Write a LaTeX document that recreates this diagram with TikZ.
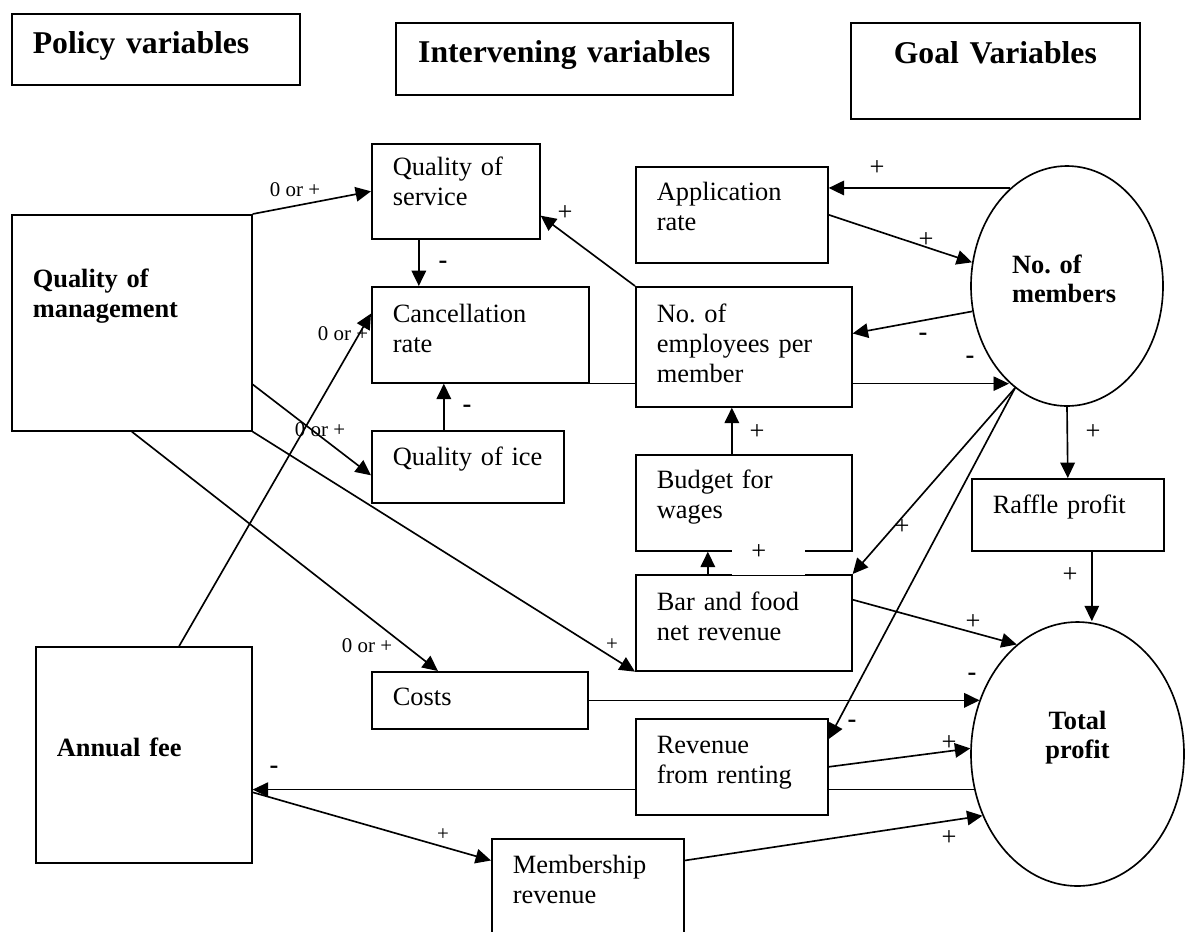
\documentclass[tikz,border=0pt]{standalone}
\usepackage{fontspec}
\setmainfont{Liberation Serif}
\usetikzlibrary{arrows.meta,shapes.geometric,backgrounds}
\frenchspacing
\newcommand\pxu{0.4545pt}
\tikzset{
  varbox/.style n args={3}{draw, fill=white, anchor=north west, align=left,
    inner xsep=21*\pxu, inner ysep=0pt, text width={(#1-42)*\pxu},
    text height={#3*\pxu}, text depth={(#2-#3)*\pxu}},
  oval/.style={draw, fill=white, ellipse, inner sep=0pt},
  headfont/.style={font={\fontsize{14.4pt}{17pt}\selectfont\bfseries}},
  boldfont/.style={font={\fontsize{12pt}{13.6pt}\selectfont\bfseries}},
  arr/.style={-{Triangle[length=7pt,width=6.6pt]}},
  lab/.style={inner sep=0pt},
  labsm/.style={inner sep=0pt, font={\fontsize{9.5pt}{11pt}\selectfont}},
  labneg/.style={inner sep=0pt, font={\fontsize{12pt}{13.6pt}\selectfont\bfseries}}
}

\begin{document}
\begin{tikzpicture}[x=\pxu, y=-\pxu, line width=0.75pt,
  font={\fontsize{12pt}{13.6pt}\selectfont}]
\useasboundingbox (0,0) rectangle (1186,931);
\node[varbox={288}{71}{40}, headfont] (policy) at (11,13) {Policy variables};
\node[varbox={337}{72}{40}, headfont, align=center] (interv) at (395,22) {Intervening variables};
\node[varbox={289}{96}{41}, headfont, align=center] (goal) at (850,22) {Goal Variables};
\node[varbox={240}{216}{73}, boldfont] (mgmt) at (11,214) {Quality of\\management};
\node[varbox={216}{216}{110}, boldfont] (annual) at (35,646) {Annual fee};
\node[varbox={168}{95}{32}] (qos) at (371,143) {Quality of\\service};
\node[varbox={217}{96}{36}] (canc) at (371,286) {Cancellation\\rate};
\node[varbox={192}{72}{35}] (qoi) at (371,430) {Quality of ice};
\node[varbox={216}{57}{34}] (costs) at (371,671) {Costs};
\node[varbox={192}{110}{35}] (memb) at (491,838) {Membership\\revenue};
\node[varbox={192}{96}{34}] (app) at (635,166) {Application\\rate};
\node[varbox={216}{120}{36}] (noe) at (635,286) {No. of\\employees per\\member};
\node[varbox={216}{96}{34}] (budget) at (635,454) {Budget for\\wages};
\node[varbox={216}{96}{36}] (bar) at (635,574) {Bar and food\\net revenue};
\node[varbox={192}{96}{35}] (rev) at (635,718) {Revenue\\from renting};
\node[varbox={192}{72}{35}] (raffle) at (971,478) {Raffle profit};
\node[oval, boldfont, minimum width=192*\pxu, minimum height=240*\pxu, text width=110*\pxu,
  align=left, text height=20*\pxu, text depth=46*\pxu] (members) at (1067,286) {No. of\\members};
\node[oval, boldfont, minimum width=213*\pxu, minimum height=264*\pxu, text width=76*\pxu,
  align=center, text height=20*\pxu, text depth=70*\pxu] (total) at (1077.5,754) {Total\\profit};

\draw[arr] (mgmt.north east) -- (qos.west);
\draw[arr] (noe.north west) -- (qos.-16);
\draw[arr] ([shift={(-37,0)}]qos.south) -- ([shift={(-37,0)}]qos.south |- canc.north);
\draw[arr] ([shift={(-24,0)}]qoi.north) -- ([shift={(-24,0)}]qoi.north |- canc.south);
\draw[arr] (mgmt.-27) -- (qoi.185);
\draw[arr] (annual.72) -- (canc.169);
\draw[arr] (mgmt.south) -- (costs.145);
\draw[arr] (mgmt.south east) -- (bar.south west);
\draw[arr] ([shift={(-36,0)}]bar.north) -- ([shift={(-36,0)}]bar.north |- budget.south);
\draw[arr] ([shift={(-12,0)}]budget.north) -- ([shift={(-12,0)}]budget.north |- noe.south);
\draw[arr] (members.120) -- (members.120 -| app.east);
\draw[arr] (app.east) -- (members.166);
\draw[arr] (members.195) -- (noe.7);
\draw[arr] (members.243) -- (bar.north east);
\draw[arr] (members.243) -- (rev.16);
\draw[arr] (members.south) -- (raffle.north);
\draw[arr] ([shift={(24,0)}]raffle.south) -- ([shift={(24,0)}]raffle.south |- total.north);
\draw[arr] (bar.12.5) -- (total.119);
\draw[arr] (costs.east) -- (costs.east -| total.151);
\draw[arr] (rev.east) -- (total.177);
\draw[arr] (annual.-19) -- (memb.161);
\draw[arr] (memb.19) -- (total.213);
\begin{scope}[on background layer]
\draw[arr] (canc.south east) -- (canc.south east -| members.239);
\draw[arr] (total.199) -- (total.199 -| annual.east);
\end{scope}

\node[labsm] (o1) at (295,190) {0 or +};
\node[labsm] (o2) at (343,334) {0 or +};
\node[labsm] (o3) at (320,430) {0 or +};
\node[labsm] (o4) at (367,646) {0 or +};
\node[labsm] (p1) at (612,645) {+};
\node[labsm] (p2) at (443,835) {+};
\node[lab] (p3) at (565,213) {+};
\node[lab] (p4) at (757,432) {+};
\node[lab] (p5) at (877,168) {+};
\node[lab] (p6) at (926,240) {+};
\node[lab] (p7) at (902,527) {+};
\node[lab] (p8) at (1093,432) {+};
\node[lab] (p9) at (1070,575) {+};
\node[lab] (p10) at (973,622) {+};
\node[lab] (p11) at (949,743) {+};
\node[lab] (p12) at (949,838) {+};
\node[lab, fill=white, anchor=north west, inner xsep=19.5*\pxu, text width=34*\pxu,
  align=left, text height=11.6*\pxu, text depth=15.4*\pxu] (pbud) at (731,547) {+};
\node[labneg] (m1) at (443,265) {-};
\node[labneg] (m2) at (467,409) {-};
\node[labneg] (m3) at (923,337) {-};
\node[labneg] (m4) at (970,360) {-};
\node[labneg] (m5) at (852,724) {-};
\node[labneg] (m6) at (972,677) {-};
\node[labneg] (m7) at (274,770) {-};
\end{tikzpicture}
\end{document}
